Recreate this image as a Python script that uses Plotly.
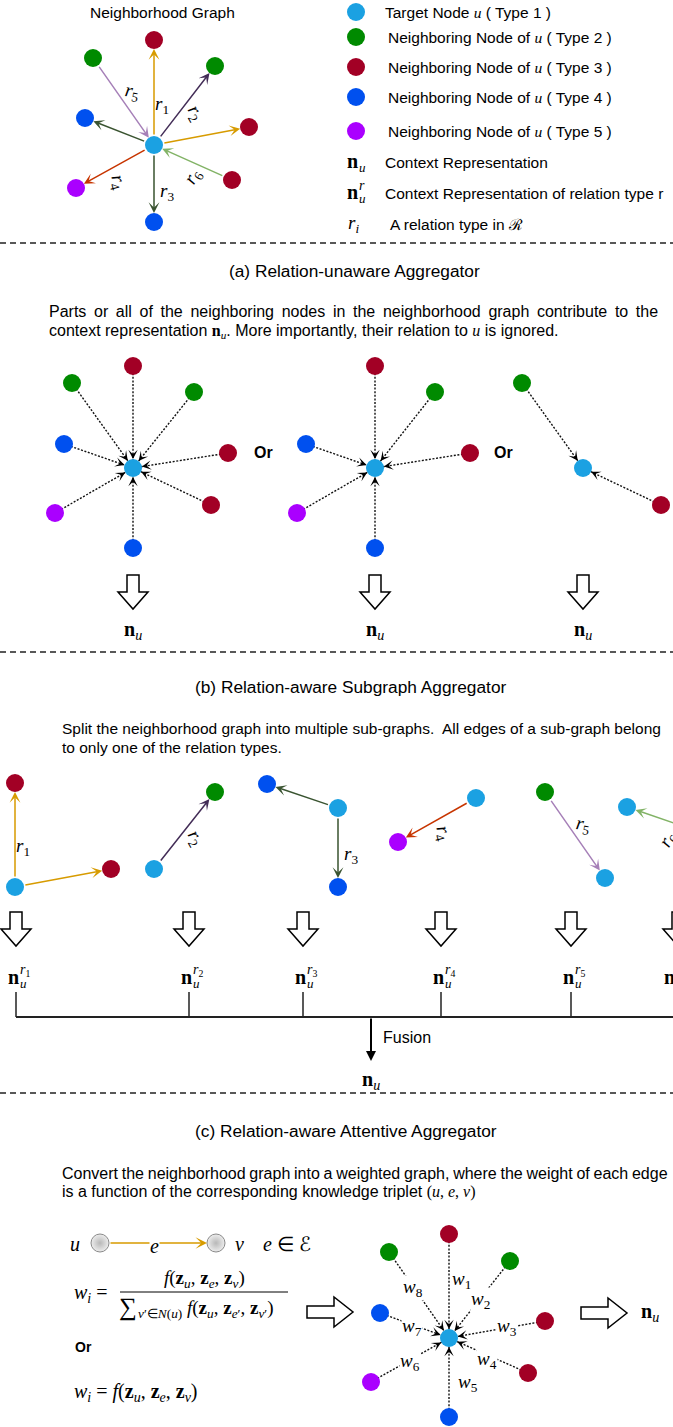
import plotly.graph_objects as go

W, H = 673, 1427
SANS = "Liberation Sans, Arial, Helvetica, sans-serif"
SERIF = "Liberation Serif, Times New Roman, serif"

NODE_COLORS = {1: "#1BA1E2", 2: "#008A00", 3: "#A20025", 4: "#0050EF", 5: "#AA00FF"}
REL_COLORS = {1: "#D79B00", 2: "#432D57", 3: "#3A5431", 4: "#C73500", 5: "#A680B8", 6: "#82B366"}
NODE_D = 18
R = NODE_D / 2

# ---------------- Neighborhood graph (top left)
NG_CX, NG_CY = 154, 145
NG_X = [154, 215, 249, 154, 76, 85, 93, 232]
NG_Y = [40, 66, 127, 222, 188, 118, 58, 180]
NG_TYPE = [3, 2, 3, 4, 5, 4, 2, 3]
NG_REL = [1, 2, 1, 3, 4, 3, 5, 6]
NG_OUTGOING = [1, 1, 1, 1, 1, 1, 0, 0]
NG_LBL_REL = [1, 2, 3, 4, 5, 6]
NG_LBL_X = [162, 195, 167, 118, 132, 193]
NG_LBL_Y = [105, 113, 192, 182, 92, 177]
NG_LBL_ANG = [0, 60, 0, 75, 10, -60]

# ---------------- Legend (top right)
LEG_X = 356
LEG_DOT_Y = [12, 37, 67, 97, 131]
LEG_DOT_TYPE = [1, 2, 3, 4, 5]
LEG_TEXT_X = [383, 386, 386, 386, 386]
U = "<span style=\"font-family:'Liberation Serif'\"><i>u</i></span>"
LEG_TEXT = [f"Target Node {U} ( Type 1 )",
            f"Neighboring Node of {U} ( Type 2 )",
            f"Neighboring Node of {U} ( Type 3 )",
            f"Neighboring Node of {U} ( Type 4 )",
            f"Neighboring Node of {U} ( Type 5 )"]
SYM_Y = [162, 193, 224]
SYM_TEXT_X = [383, 383, 388]
SYM_TEXT = ["Context Representation", "Context Representation of relation type r",
            "A relation type in \u211b"]

SEP_Y = [243, 652, 1093]

# ---------------- (a) Relation-unaware aggregator
A_CX = [133, 375, 583]
A_CY = [468, 468, 468]
A_NX = [[133, 72, 194, 64, 228, 55, 211, 133],
        [375, 435, 306, 470, 297, 375],
        [522, 661]]
A_NY = [[366, 383, 392, 444, 453, 513, 505, 548],
        [366, 392, 444, 453, 513, 548],
        [383, 505]]
A_NT = [[3, 2, 2, 4, 3, 5, 3, 4],
        [3, 2, 4, 3, 5, 4],
        [2, 3]]
A_OR_X = [263, 503]
A_OR_Y = 452
A_ARROW_TOP = 575
A_NU_Y = 630

# ---------------- (b) Relation-aware subgraph aggregator
B_X = [15, 15, 111, 154, 215, 338, 267, 338, 476, 398, 545, 605, 627, 715]
B_Y = [887, 783, 869, 869, 792, 808, 784, 887, 798, 842, 792, 878, 807, 837]
B_T = [1, 3, 3, 1, 2, 1, 4, 4, 1, 5, 2, 1, 1, 3]
B_SRC = [0, 0, 3, 5, 5, 8, 10, 13]
B_DST = [1, 2, 4, 6, 7, 9, 11, 12]
B_REL = [1, 1, 2, 3, 3, 4, 5, 6]
B_LBL_REL = [1, 2, 3, 4, 5, 6]
B_LBL_X = [23, 195, 351, 443, 583, 668]
B_LBL_Y = [847, 838, 855, 833, 825, 840]
B_LBL_ANG = [0, 60, 0, 75, 10, -60]
B_ARROW_X = [16, 189, 303, 441, 571, 678]
B_ARROW_TOP = 912
B_NU_Y = 977
B_NU_X = [13, 186, 300, 438, 568, 669]
B_BRACKET_X = [16, 189, 303, 441, 571]
B_BRACKET_TOP, B_BRACKET_Y = 992, 1017
B_FUSION_X, B_FUSION_END = 371, 1061
B_OUT_NU_Y = 1080

# ---------------- (c) Relation-aware attentive aggregator
C_CX, C_CY = 449, 1338
C_X = [449, 510, 545, 528, 449, 371, 380, 389]
C_Y = [1234, 1261, 1321, 1373, 1417, 1382, 1313, 1252]
C_T = [3, 2, 3, 3, 4, 5, 4, 2]
C_W_X = [461, 480, 507, 487, 468, 410, 412, 413]
C_W_Y = [1280, 1300, 1327, 1360, 1383, 1362, 1327, 1288]
C_EDGE_U = (100, 1243)
C_EDGE_V = (216, 1243)

fig = go.Figure()
shapes = []
ann = []


def txt(x, y, s, size=16, family=SANS, xanchor="center", yanchor="middle",
        angle=0, bg=None, color="#000"):
    d = dict(x=x, y=y, xref="x", yref="y", text=s, showarrow=False,
             font=dict(size=size, family=family, color=color),
             xanchor=xanchor, yanchor=yanchor, textangle=angle)
    if bg:
        d["bgcolor"] = bg
        d["borderpad"] = 0
    ann.append(d)


def arrow(x0, y0, x1, y1, color, width=1.5, head=3, size=1.2, s0=R, s1=R):
    ann.append(dict(x=x1, y=y1, ax=x0, ay=y0, xref="x", yref="y", axref="x", ayref="y",
                    text="", showarrow=True, arrowhead=head, arrowsize=size,
                    arrowwidth=width, arrowcolor=color, standoff=s1, startstandoff=s0))


def dotted_edge(x0, y0, x1, y1):
    fig.add_trace(go.Scatter(x=[x0, x1], y=[y0, y1], mode="lines",
                             line=dict(color="#111", width=1.4, dash="2px,1.6px"),
                             hoverinfo="skip"))
    dx, dy = x1 - x0, y1 - y0
    L = (dx * dx + dy * dy) ** 0.5
    ux, uy = dx / L, dy / L
    arrow(x1 - ux * (R + 7), y1 - uy * (R + 7), x1, y1, "#000", width=1.3,
          head=3, size=1.2, s0=0, s1=R)


def nodes(xs, ys, types, gray=False):
    if gray:
        mk = dict(size=NODE_D, color="#ededed", line=dict(width=1, color="#8a8a8a"),
                  gradient=dict(type="radial", color="#b8b8b8"))
    else:
        mk = dict(size=NODE_D, color=[NODE_COLORS[t] for t in types], line=dict(width=0))
    fig.add_trace(go.Scatter(x=xs, y=ys, mode="markers", marker=mk, hoverinfo="skip"))


def down_block(xc, ytop):
    sw, hw, sh, hh = 12, 30, 17, 17
    p = (f"M {xc - sw / 2},{ytop} L {xc + sw / 2},{ytop} L {xc + sw / 2},{ytop + sh} "
         f"L {xc + hw / 2},{ytop + sh} L {xc},{ytop + sh + hh} L {xc - hw / 2},{ytop + sh} "
         f"L {xc - sw / 2},{ytop + sh} Z")
    shapes.append(dict(type="path", path=p, xref="x", yref="y", fillcolor="white",
                       line=dict(color="#000", width=1.5)))


def right_block(xl, yc):
    sh, hh, sl, hl = 12, 30, 27, 19
    p = (f"M {xl},{yc - sh / 2} L {xl + sl},{yc - sh / 2} L {xl + sl},{yc - hh / 2} "
         f"L {xl + sl + hl},{yc} L {xl + sl},{yc + hh / 2} L {xl + sl},{yc + sh / 2} "
         f"L {xl},{yc + sh / 2} Z")
    shapes.append(dict(type="path", path=p, xref="x", yref="y", fillcolor="white",
                       line=dict(color="#000", width=1.5)))


def nvec(x, y, sup=None, size=20):
    txt(x, y, "<b>n</b>", size=size, family=SERIF)
    txt(x + 5, y + 6, "<i>u</i>", size=13, family=SERIF, xanchor="left")
    if sup is not None:
        txt(x + 5, y - 7, sup, size=14, family=SERIF, xanchor="left")


def rlabel(i):
    return f"<i>r</i><sub>{i}</sub>"


def justify(s, px):
    return f"<span style=\"word-spacing:{px}px\">{s}</span>"


# separators
for y in SEP_Y:
    shapes.append(dict(type="line", x0=0, x1=W, y0=y, y1=y, xref="x", yref="y",
                       line=dict(color="#222", width=1.3, dash="6px,4px")))

# ---------------- Neighborhood graph
txt(162, 12, "Neighborhood Graph", size=15.5)
for x, y, rel, out in zip(NG_X, NG_Y, NG_REL, NG_OUTGOING):
    if out:
        arrow(NG_CX, NG_CY, x, y, REL_COLORS[rel])
    else:
        arrow(x, y, NG_CX, NG_CY, REL_COLORS[rel])
nodes(NG_X + [NG_CX], NG_Y + [NG_CY], NG_TYPE + [1])
for r, x, y, a in zip(NG_LBL_REL, NG_LBL_X, NG_LBL_Y, NG_LBL_ANG):
    txt(x, y, rlabel(r), size=19, family=SERIF, angle=a)

# ---------------- Legend
nodes([LEG_X] * len(LEG_DOT_Y), LEG_DOT_Y, LEG_DOT_TYPE)
for x, y, s in zip(LEG_TEXT_X, LEG_DOT_Y, LEG_TEXT):
    txt(x, y, s, size=15.5, xanchor="left")
nvec(352, SYM_Y[0] - 1)
nvec(352, SYM_Y[1] - 1, sup="<i>r</i>")
txt(353, SYM_Y[2], "<i>r</i><sub><i>i</i></sub>", size=19, family=SERIF)
for x, y, s in zip(SYM_TEXT_X, SYM_Y, SYM_TEXT):
    txt(x, y, s, size=15.5, xanchor="left")

# ---------------- (a)
NU = "<span style=\"font-family:'Liberation Serif'\"><b>n</b><sub><i>u</i></sub></span>"
txt(354, 271, "(a) Relation-unaware Aggregator", size=17.3)
txt(47, 311, justify("Parts or all of the neighboring nodes in the neighborhood graph contribute to the", 3.2),
    size=16, xanchor="left")
txt(47, 331, f"context representation {NU}. More importantly, their relation to {U} is ignored.",
    size=16, xanchor="left")
for cx, cy, xs, ys, ts in zip(A_CX, A_CY, A_NX, A_NY, A_NT):
    for x, y in zip(xs, ys):
        dotted_edge(x, y, cx, cy)
    nodes(xs + [cx], ys + [cy], ts + [1])
for x in A_OR_X:
    txt(x, A_OR_Y, "<b>Or</b>", size=16)
for cx in A_CX:
    down_block(cx, A_ARROW_TOP)
    txt(cx, A_NU_Y, "<b>n</b><sub><i>u</i></sub>", size=20, family=SERIF)

# ---------------- (b)
txt(350, 687, "(b) Relation-aware Subgraph Aggregator", size=17.3)
txt(60, 728, "Split the neighborhood graph into multiple sub-graphs.\u00a0 All edges of a sub-graph belong",
    size=15.5, xanchor="left")
txt(60, 747, "to only one of the relation types.", size=15.5, xanchor="left")
for s, d, rel in zip(B_SRC, B_DST, B_REL):
    arrow(B_X[s], B_Y[s], B_X[d], B_Y[d], REL_COLORS[rel])
nodes(B_X, B_Y, B_T)
for r, x, y, a in zip(B_LBL_REL, B_LBL_X, B_LBL_Y, B_LBL_ANG):
    txt(x, y, rlabel(r), size=19, family=SERIF, angle=a)
for x in B_ARROW_X:
    down_block(x, B_ARROW_TOP)
for i, x in enumerate(B_NU_X):
    nvec(x, B_NU_Y, sup=rlabel(i + 1))
for x in B_BRACKET_X:
    shapes.append(dict(type="line", x0=x, x1=x, y0=B_BRACKET_TOP, y1=B_BRACKET_Y,
                       xref="x", yref="y", line=dict(color="#222", width=1.5)))
shapes.append(dict(type="line", x0=B_BRACKET_X[0], x1=W, y0=B_BRACKET_Y, y1=B_BRACKET_Y,
                   xref="x", yref="y", line=dict(color="#222", width=1.8)))
arrow(B_FUSION_X, B_BRACKET_Y, B_FUSION_X, B_FUSION_END, "#000", width=2, head=2,
      size=1.0, s0=0, s1=0)
txt(381, 1037, "Fusion", size=16, xanchor="left")
txt(B_FUSION_X, B_OUT_NU_Y, "<b>n</b><sub><i>u</i></sub>", size=20, family=SERIF)

# ---------------- (c)
txt(193, 1131, "(c) Relation-aware Attentive Aggregator", size=17.3, xanchor="left")
txt(60, 1173, justify("Convert the neighborhood graph into a weighted graph, where the weight of each edge", -0.7),
    size=16, xanchor="left")
UEV = "<span style=\"font-family:'Liberation Serif'\">(<i>u</i>, <i>e</i>, <i>v</i>)</span>"
txt(60, 1192, f"is a function of the corresponding knowledge triplet {UEV}", size=16, xanchor="left")

# edge legend
arrow(C_EDGE_U[0], C_EDGE_U[1], C_EDGE_V[0], C_EDGE_V[1], REL_COLORS[1], width=1.6)
nodes([C_EDGE_U[0], C_EDGE_V[0]], [C_EDGE_U[1], C_EDGE_V[1]], [1, 1], gray=True)
txt(75, 1244, "<i>u</i>", size=20, family=SERIF)
txt(154, 1246, "<i>e</i>", size=20, family=SERIF, bg="white")
txt(239, 1244, "<i>v</i>", size=20, family=SERIF)
txt(287, 1244, "<i>e</i> \u2208 \u2130", size=20, family=SERIF)

# formulas
Z = "<b>z</b>"
txt(72, 1293, "<i>w</i><sub><i>i</i></sub> =", size=20, family=SERIF, xanchor="left")
txt(204, 1279, f"<i>f</i>({Z}<sub><i>u</i></sub>, {Z}<sub><i>e</i></sub>, {Z}<sub><i>v</i></sub>)",
    size=19, family=SERIF)
shapes.append(dict(type="line", x0=120, x1=288, y0=1292, y1=1292, xref="x", yref="y",
                   line=dict(color="#000", width=1)))
txt(128, 1307, "\u2211", size=25, family=SERIF)
txt(136, 1309, f"<sub><i>v</i>\u2032\u2208<i>N</i>(<i>u</i>)</sub> <i>f</i>({Z}<sub><i>u</i></sub>, "
    f"{Z}<sub><i>e</i>\u2032</sub>, {Z}<sub><i>v</i>\u2032</sub>)", size=19, family=SERIF,
    xanchor="left")
txt(73, 1347, "<b>Or</b>", size=14, xanchor="left")
txt(72, 1392, f"<i>w</i><sub><i>i</i></sub> = <i>f</i>({Z}<sub><i>u</i></sub>, {Z}<sub><i>e</i></sub>, "
    f"{Z}<sub><i>v</i></sub>)", size=20, family=SERIF, xanchor="left")

right_block(307, 1312)
for x, y in zip(C_X, C_Y):
    dotted_edge(x, y, C_CX, C_CY)
nodes(C_X + [C_CX], C_Y + [C_CY], C_T + [1])
for i, (x, y) in enumerate(zip(C_W_X, C_W_Y)):
    txt(x, y, f"<i>w</i><sub>{i + 1}</sub>", size=19, family=SERIF, bg="white")
right_block(581, 1313)
txt(650, 1312, "<b>n</b><sub><i>u</i></sub>", size=20, family=SERIF)

fig.update_layout(
    width=W, height=H, autosize=False,
    margin=dict(l=0, r=0, t=0, b=0),
    paper_bgcolor="white", plot_bgcolor="white",
    xaxis=dict(range=[0, W], visible=False, fixedrange=True),
    yaxis=dict(range=[H, 0], visible=False, fixedrange=True),
    showlegend=False, shapes=shapes, annotations=ann,
)

fig.write_html("out.html", config={"displayModeBar": False},
               post_script="document.body.style.margin='0';document.body.style.overflow='hidden';")
